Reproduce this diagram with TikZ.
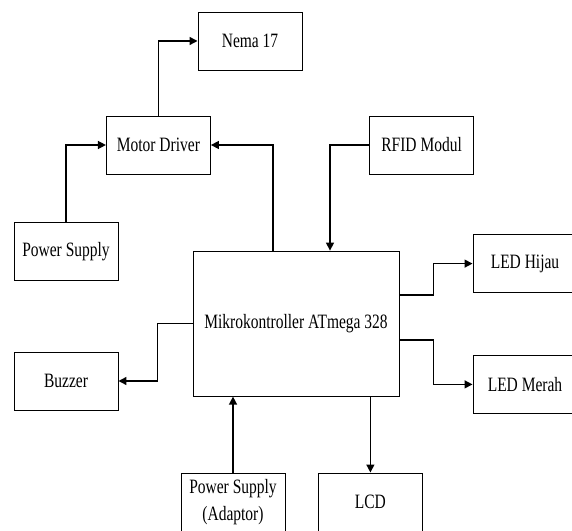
\documentclass[tikz,border=0pt]{standalone}
\usepackage{fontspec}
\setmainfont[FakeStretch=0.76]{Liberation Serif}
\usetikzlibrary{arrows.meta,positioning,calc}

\begin{document}
\begin{tikzpicture}[
  blok/.style={rectangle, draw, line width=0.7pt, minimum width=2.6cm, minimum height=1.45cm, align=center, inner sep=1pt, font=\fontsize{14.5}{19}\selectfont},
  mcubox/.style={blok, minimum width=5.15cm, minimum height=3.625cm},
  link/.style={-{Triangle[length=0.2cm, width=0.2cm]}, line width=1pt}
]
  \useasboundingbox (0,0) rectangle (14.3,13.25);
  \clip (0,0) rectangle (14.3,13.25);
  \node[blok] (nema) at (6.25,12.225) {Nema 17};
  \node[blok] (driver) at (3.96,9.625) {Motor Driver};
  \node[blok] (rfid) at (10.54,9.625) {RFID Modul};
  \node[blok] (psu) at (1.65,6.96) {Power Supply};
  \node[mcubox] (mcu) at (7.4,5.16) {Mikrokontroller ATmega 328};
  \node[blok] (hijau) at (13.125,6.66) {LED Hijau};
  \node[blok] (merah) at (13.125,3.64) {LED Merah};
  \node[blok] (buzzer) at (1.65,3.725) {Buzzer};
  \node[blok] (adaptor) at (5.825,0.7) {Power Supply\\(Adaptor)};
  \node[blok] (lcd) at (9.26,0.7) {LCD};
  \draw[link] (driver.north) |- (nema.west);
  \draw[link] (psu.north) |- (driver.west);
  \draw[link] ([xshift=-0.575cm]mcu.north) |- (driver.east);
  \draw[link] (rfid.west) -| ([xshift=0.85cm]mcu.north);
  \draw[link] ([yshift=0.71cm]mcu.east) -- ++(0.85,0) |- (hijau.west);
  \draw[link] ([yshift=-0.41cm]mcu.east) -- ++(0.85,0) |- (merah.west);
  \draw[link] (mcu.west) -- ++(-0.875,0) |- (buzzer.east);
  \draw[link] (mcu.south -| lcd.north) -- (lcd.north);
  \draw[link] (adaptor.north) -- (adaptor.north |- mcu.south);
\end{tikzpicture}
\end{document}
